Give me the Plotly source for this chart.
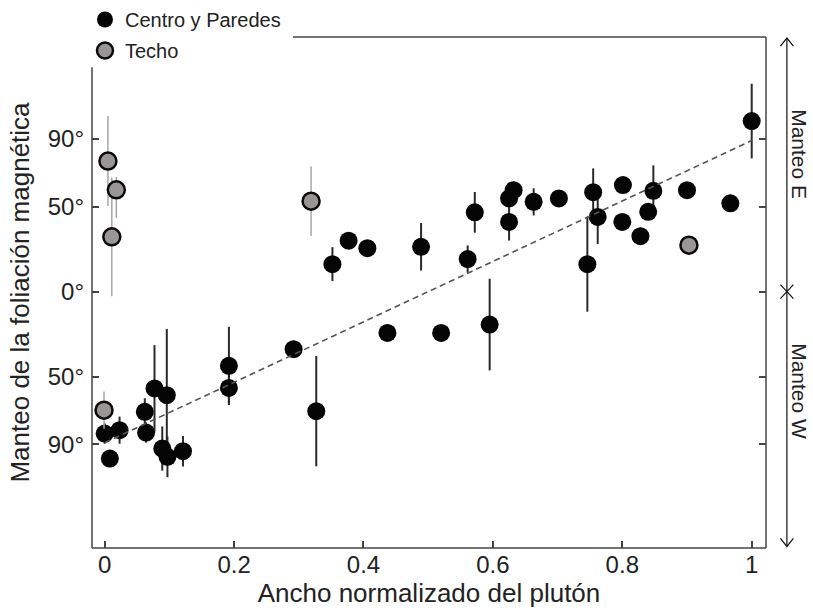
import plotly.graph_objects as go

# Centro y Paredes: normalised width, foliation dip (deg, + = E, - = W), error bar
cp_x = [0.000, 0.008, 0.023, 0.062, 0.064, 0.077, 0.096, 0.089, 0.097, 0.121,
        0.192, 0.192, 0.292, 0.327, 0.352, 0.377, 0.406, 0.489, 0.437, 0.520,
        0.561, 0.572, 0.595, 0.625, 0.625, 0.632, 0.663, 0.702, 0.746, 0.755,
        0.762, 0.800, 0.801, 0.828, 0.840, 0.848, 0.900, 0.967, 1.000]
cp_y = [-83.6, -98.3, -81.6, -70.8, -83.0, -57.0, -61.0, -92.4, -97.3, -94.0,
        -43.7, -56.7, -33.9, -70.4, 16.2, 30.0, 25.6, 26.4, -24.3, -24.3,
        19.2, 46.7, -19.4, 41.1, 54.9, 59.8, 52.9, 54.9, 16.2, 58.6,
        44.0, 41.1, 62.8, 32.7, 47.0, 59.4, 59.8, 52.0, 100.5]
cp_err = [6, 5, 8, 8, 6, 25.5, 39, 13, 12, 9,
          23, 10, 5, 32.5, 10, 0, 3, 14, 5, 0,
          8, 12, 27, 11, 5, 5, 8, 3, 28, 14,
          16, 0, 0, 5, 0, 15, 0, 5, 22]

# Techo
techo_x = [0.005, 0.018, 0.011, 0.319, -0.001, 0.903]
techo_y = [76.9, 60.0, 32.3, 53.3, -69.8, 27.4]
techo_err_plus = [26.5, 7.5, 35, 20.5, 11, 0]
techo_err_minus = [26.5, 16.5, 35, 20.5, 11, 0]

# Linear trend
trend_x = [0.0, 1.0]
trend_y = [-89.0, 89.0]

xtick_vals = [0, 0.2, 0.4, 0.6, 0.8, 1]
xtick_text = ["0", "0.2", "0.4", "0.6", "0.8", "1"]
ytick_vals = [-90, -50, 0, 50, 90]
ytick_text = ["90°", "50°", "0°", "50°", "90°"]

FONT = "Liberation Sans, Arial, sans-serif"
TXT = "#222222"
FRAME = "#444444"

fig = go.Figure()

fig.add_trace(go.Scatter(
    x=cp_x, y=cp_y, mode="markers", name="Centro y Paredes",
    legendgroup="cp",
    marker=dict(size=18, color="#050505", line=dict(width=0)),
    error_y=dict(type="data", array=cp_err, symmetric=True,
                 color="#2a2a2a", thickness=2, width=0),
))

fig.add_trace(go.Scatter(
    x=techo_x, y=techo_y, mode="markers", name="Techo",
    legendgroup="techo",
    marker=dict(size=17, color="#9a9696", line=dict(width=2.5, color="#0a0a0a")),
    error_y=dict(type="data", array=techo_err_plus, arrayminus=techo_err_minus,
                 symmetric=False, color="#a8a8a8", thickness=1.5, width=0),
))

fig.add_trace(go.Scatter(
    x=trend_x, y=trend_y, mode="lines", showlegend=False,
    line=dict(color="#555555", width=1.6, dash="6px,4px"),
))

# Frame: left side opened at the top and top side opened at the left,
# leaving room for the legend block
shapes = [
    dict(type="line", xref="paper", yref="paper", x0=0, x1=1, y0=0, y1=0,
         line=dict(color=FRAME, width=1.5)),
    dict(type="line", xref="paper", yref="paper", x0=0, x1=0, y0=0, y1=0.941,
         line=dict(color=FRAME, width=1.5)),
    dict(type="line", xref="paper", yref="paper", x0=1, x1=1, y0=0, y1=1,
         line=dict(color=FRAME, width=1.5)),
    dict(type="line", xref="paper", yref="paper", x0=0.298, x1=1, y0=1, y1=1,
         line=dict(color=FRAME, width=1.5)),
]

# Dip-direction bar on the right: double arrow with a cross at 0°
XB = 1.031
shapes += [
    dict(type="line", xref="paper", yref="paper", x0=XB, x1=XB, y0=0.003, y1=0.998,
         line=dict(color="#111111", width=1.2)),
    dict(type="path", xref="paper", yref="paper", xsizemode="pixel", ysizemode="pixel",
         xanchor=XB, yanchor=0.998, path="M-6.5,-8 L0,0 L6.5,-8",
         line=dict(color="#111111", width=1.2)),
    dict(type="path", xref="paper", yref="paper", xsizemode="pixel", ysizemode="pixel",
         xanchor=XB, yanchor=0.003, path="M-6.5,8 L0,0 L6.5,8",
         line=dict(color="#111111", width=1.2)),
    dict(type="path", xref="paper", yref="y", xsizemode="pixel", ysizemode="pixel",
         xanchor=XB, yanchor=0, path="M-6.5,-7 L6.5,7 M-6.5,7 L6.5,-7",
         line=dict(color="#111111", width=1.2)),
]

annotations = [
    dict(text="Manteo E", xref="paper", yref="y", x=1.0504, y=81,
         textangle=90, showarrow=False, xanchor="center", yanchor="middle",
         font=dict(family=FONT, size=21, color=TXT)),
    dict(text="Manteo W", xref="paper", yref="y", x=1.0504, y=-58.6,
         textangle=90, showarrow=False, xanchor="center", yanchor="middle",
         font=dict(family=FONT, size=21, color=TXT)),
]

fig.update_layout(
    width=813, height=610,
    margin=dict(l=92, r=47, t=37, b=62, autoexpand=False),
    paper_bgcolor="white", plot_bgcolor="white",
    font=dict(family=FONT, color=TXT),
    shapes=shapes, annotations=annotations,
    legend=dict(x=-0.0104, xanchor="left", y=1, yref="container", yanchor="top",
                bgcolor="rgba(0,0,0,0)", font=dict(family=FONT, size=20, color=TXT),
                tracegroupgap=2, itemsizing="trace"),
    xaxis=dict(range=[-0.0196, 1.0221], tickvals=xtick_vals, ticktext=xtick_text,
               ticks="inside", ticklen=7, tickwidth=1.5, tickcolor=FRAME,
               showgrid=False, zeroline=False, showline=False,
               tickfont=dict(family=FONT, size=24, color=TXT),
               title=dict(text="Ancho normalizado del plutón", standoff=6,
                          font=dict(family=FONT, size=26, color=TXT))),
    yaxis=dict(range=[-151, 150], tickvals=ytick_vals, ticktext=ytick_text,
               ticks="inside", ticklen=7, tickwidth=1.5, tickcolor=FRAME,
               mirror="ticks", ticklabelstandoff=7,
               showgrid=False, zeroline=False, showline=False,
               tickfont=dict(family=FONT, size=24, color=TXT),
               title=dict(text="Manteo de la foliación magnética", standoff=10,
                          font=dict(family=FONT, size=26, color=TXT))),
)

fig.write_html("out.html")
